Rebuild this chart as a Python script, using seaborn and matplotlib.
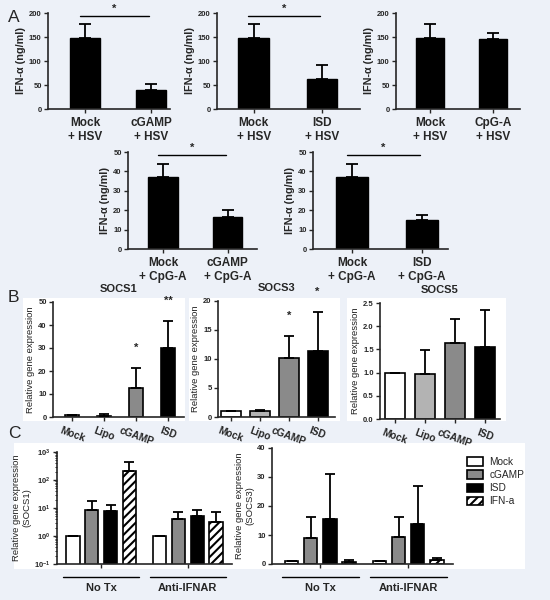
import matplotlib.pyplot as plt
import matplotlib.transforms as mtransforms
from matplotlib.patches import Rectangle, Patch
import pandas as pd
import seaborn as sns

# panel A data (IFN-alpha, ng/ml)
a1_labels = ['Mock\n+ HSV', 'cGAMP\n+ HSV']
a1_vals = [147, 40]
a1_err = [30, 12]
a2_labels = ['Mock\n+ HSV', 'ISD\n+ HSV']
a2_vals = [147, 63]
a2_err = [30, 29]
a3_labels = ['Mock\n+ HSV', 'CpG-A\n+ HSV']
a3_vals = [147, 146]
a3_err = [30, 12]
a4_labels = ['Mock\n+ CpG-A', 'cGAMP\n+ CpG-A']
a4_vals = [37, 16.5]
a4_err = [7, 3.5]
a5_labels = ['Mock\n+ CpG-A', 'ISD\n+ CpG-A']
a5_vals = [37, 15]
a5_err = [7, 2.5]

# panel B data (relative gene expression)
b_labels = ['Mock', 'Lipo', 'cGAMP', 'ISD']
socs1_vals = [1.0, 0.6, 12.7, 30.0]
socs1_err = [0, 0.5, 8.5, 11.8]
socs1_stars = ['', '', '*', '**']
socs3_vals = [1.0, 1.0, 10.2, 11.3]
socs3_err = [0, 0.2, 3.7, 6.8]
socs3_stars = ['', '', '*', '*']
socs5_vals = [1.0, 0.97, 1.64, 1.56]
socs5_err = [0, 0.52, 0.52, 0.78]

# panel C data
c_groups = ['No Tx', 'Anti-IFNAR']
c_treat = ['Mock', 'cGAMP', 'ISD', 'IFN-a']
c1_vals = {'Mock': [1, 1], 'cGAMP': [8.5, 4.0], 'ISD': [7.8, 5.2], 'IFN-a': [210, 3.2]}
c1_err = {'Mock': [0, 0], 'cGAMP': [9.3, 3.2], 'ISD': [5.0, 3.3], 'IFN-a': [230, 4.0]}
c3_vals = {'Mock': [1, 1], 'cGAMP': [9.0, 9.2], 'ISD': [15.5, 13.8], 'IFN-a': [0.8, 1.3]}
c3_err = {'Mock': [0, 0], 'cGAMP': [7.2, 7.0], 'ISD': [15.5, 13.2], 'IFN-a': [0.7, 0.7]}

bg = '#edf1f8'
col_mock, col_lipo, col_cgamp, col_isd = 'white', '#b3b3b3', '#8a8a8a', 'black'

sns.set_style('ticks')
plt.rcParams['font.family'] = ['Liberation Sans', 'DejaVu Sans']
plt.rcParams['mathtext.fontset'] = 'custom'
plt.rcParams['mathtext.bf'] = 'Liberation Sans:bold'
plt.rcParams['mathtext.rm'] = 'Liberation Sans'
plt.rcParams['hatch.linewidth'] = 1.5
plt.rcParams['axes.facecolor'] = 'none'

W, H = 550, 600
fig = plt.figure(figsize=(5.5, 6), dpi=100, facecolor=bg)


def box(l, t, r, b):
    return [l / W, 1 - b / H, (r - l) / W, (b - t) / H]


def style(ax, xsize=8.5):
    sns.despine(ax=ax)
    for s in ['left', 'bottom']:
        ax.spines[s].set_linewidth(1.2)
    ax.tick_params(axis='y', width=1, length=3, labelsize=5.5, pad=1.5)
    ax.tick_params(axis='x', width=1, length=3, labelsize=xsize, pad=3)
    for lbl in ax.get_yticklabels() + ax.get_xticklabels():
        lbl.set_fontweight('bold')
    ax.set_xlabel('')


def errbars(ax, x, vals, errs, cap=3.5):
    ax.errorbar(x, vals, yerr=[[0] * len(vals), errs], fmt='none', ecolor='black',
                elinewidth=1.3, capsize=cap, capthick=1.3, zorder=3)


# white backgrounds behind B and C
for l, t, r, b in [(23, 298, 185, 421), (189, 298, 340, 421), (347, 298, 506, 421), (14, 443, 525, 569)]:
    fig.add_artist(Rectangle((l / W, 1 - b / H), (r - l) / W, (b - t) / H, transform=fig.transFigure,
                             facecolor='white', edgecolor='none', zorder=-5))

# ---- panel A ----
a_panels = [
    ((48, 13, 170, 109), a1_labels, a1_vals, a1_err, (-0.56, 1.29), 200, True),
    ((217, 13, 360, 109), a2_labels, a2_vals, a2_err, (-0.54, 1.56), 200, True),
    ((396, 13, 520, 109), a3_labels, a3_vals, a3_err, (-0.54, 1.43), 200, False),
    ((128, 152, 257, 249), a4_labels, a4_vals, a4_err, (-0.54, 1.45), 50, True),
    ((313, 152, 448, 249), a5_labels, a5_vals, a5_err, (-0.56, 1.37), 50, True),
]
for rect, labels, vals, errs, xl, ymax, sig in a_panels:
    ax = fig.add_axes(box(*rect))
    sns.barplot(x=labels, y=vals, color='black', width=0.45, saturation=1,
                errorbar=None, edgecolor='black', linewidth=1, ax=ax)
    errbars(ax, range(len(vals)), vals, errs, cap=4.3)
    ax.set_xlim(*xl)
    ax.set_ylim(0, ymax)
    ax.set_yticks(range(0, ymax + 1, ymax // 4 if ymax == 200 else 10))
    ax.set_ylabel('IFN-α (ng/ml)', fontsize=7.8, fontweight='bold', labelpad=2)
    style(ax)
    if sig:
        tr = mtransforms.blended_transform_factory(ax.transData, ax.transAxes)
        ax.plot([-0.08, 0.97], [0.965, 0.965], color='black', lw=1, transform=tr, clip_on=False)
        ax.text(0.45, 0.99, '*', transform=tr, ha='center', va='bottom', fontsize=8, fontweight='bold')

fig.text(8 / W, 1 - 17 / H, 'A', fontsize=12.5, va='center')
fig.text(8 / W, 1 - 297 / H, 'B', fontsize=12.5, va='center')
fig.text(8 / W, 1 - 433 / H, 'C', fontsize=12.5, va='center')

# ---- panel B ----
b_colors = [col_mock, col_lipo, col_cgamp, col_isd]
b_panels = [
    ((53, 302, 184, 417), 'SOCS1', socs1_vals, socs1_err, socs1_stars, (-0.6, 3.5), 0.44, 50, 10),
    ((218, 301, 335, 417), 'SOCS3', socs3_vals, socs3_err, socs3_stars, (-0.45, 3.6), 0.69, 20, 5),
    ((380, 303, 500, 419), 'SOCS5', socs5_vals, socs5_err, None, (-0.5, 3.5), 0.67, 2.5, 0.5),
]
for rect, title, vals, errs, stars, xl, bw, ymax, step in b_panels:
    ax = fig.add_axes(box(*rect))
    sns.barplot(x=b_labels, y=vals, hue=b_labels, palette=b_colors, legend=False, width=bw,
                saturation=1, errorbar=None, edgecolor='black', linewidth=1.2, ax=ax)
    errbars(ax, range(len(vals)), vals, errs)
    ax.set_xlim(*xl)
    ax.set_ylim(0, ymax)
    n = int(round(ymax / step))
    ticks = [i * step for i in range(n + 1)]
    ax.set_yticks(ticks)
    if ymax < 5:
        ax.set_yticklabels([f'{t:.1f}' for t in ticks])
    ax.set_ylabel('Relative gene expression', fontsize=6.8, labelpad=2, color='#222222')
    ax.set_title(title, fontsize=8, fontweight='bold', pad=7)
    style(ax, xsize=7.3)
    for lbl in ax.get_xticklabels():
        lbl.set_rotation(-20)
        lbl.set_ha('center')
    if stars:
        for i, s in enumerate(stars):
            if s:
                ax.text(i, vals[i] + errs[i] + 0.13 * ymax, s, ha='center', va='bottom',
                        fontsize=8, fontweight='bold', clip_on=False)

# ---- panel C ----
c_colors = [col_mock, col_cgamp, col_isd, 'white']
c_panels = [
    ((57, 452, 232, 564), c1_vals, c1_err, True, (-0.51, 1.51), 'Relative gene expression\n(SOCS1)'),
    ((272, 448, 453, 564), c3_vals, c3_err, False, (-0.55, 1.51), 'Relative gene expression\n(SOCS3)'),
]
for rect, vals, errs, logy, xl, ylab in c_panels:
    ax = fig.add_axes(box(*rect))
    df = pd.DataFrame({
        'group': c_groups * len(c_treat),
        'treatment': [t for t in c_treat for _ in c_groups],
        'value': [v for t in c_treat for v in vals[t]],
    })
    sns.barplot(data=df, x='group', y='value', hue='treatment', palette=c_colors, width=0.87, gap=0.3,
                saturation=1, errorbar=None, edgecolor='black', linewidth=1.2, legend=False, ax=ax)
    for cont, t in zip(ax.containers, c_treat):
        xs = [p.get_x() + p.get_width() / 2 for p in cont.patches]
        errbars(ax, xs, vals[t], errs[t])
        if t == 'IFN-a':
            for p in cont.patches:
                p.set_hatch('////')
    ax.set_xlim(*xl)
    if logy:
        ax.set_yscale('log')
        ax.set_ylim(0.1, 1000)
        ax.set_yticks([0.1, 1, 10, 100, 1000])
        ax.set_yticklabels([r'$\mathbf{10^{-1}}$', r'$\mathbf{10^{0}}$', r'$\mathbf{10^{1}}$',
                            r'$\mathbf{10^{2}}$', r'$\mathbf{10^{3}}$'])
        ax.tick_params(axis='y', which='minor', length=1.5, width=0.7)
    else:
        ax.set_ylim(0, 40)
        ax.set_yticks([0, 10, 20, 30, 40])
    ax.set_xticks([0, 1])
    ax.set_xticklabels(['', ''])
    ax.set_ylabel(ylab, fontsize=6.8, labelpad=2, color='#222222')
    style(ax)
    tr = mtransforms.blended_transform_factory(ax.transData, ax.transAxes)
    for i, g in enumerate(c_groups):
        ax.plot([i - 0.44, i + 0.44], [-0.115, -0.115], color='black', lw=1, transform=tr, clip_on=False)
        ax.text(i, -0.21, g, transform=tr, ha='center', va='center', fontsize=8, fontweight='bold')

handles = [Patch(facecolor=c, edgecolor='black', linewidth=1.2, hatch='////' if t == 'IFN-a' else None)
           for c, t in zip(c_colors, c_treat)]
fig.legend(handles, c_treat, loc='upper left', bbox_to_anchor=(458 / W, 1 - 448 / H), frameon=False,
           fontsize=7.3, handlelength=1.6, handleheight=0.9, labelspacing=0.3, handletextpad=0.6)

fig.savefig('out.png', dpi=100, facecolor=bg)
